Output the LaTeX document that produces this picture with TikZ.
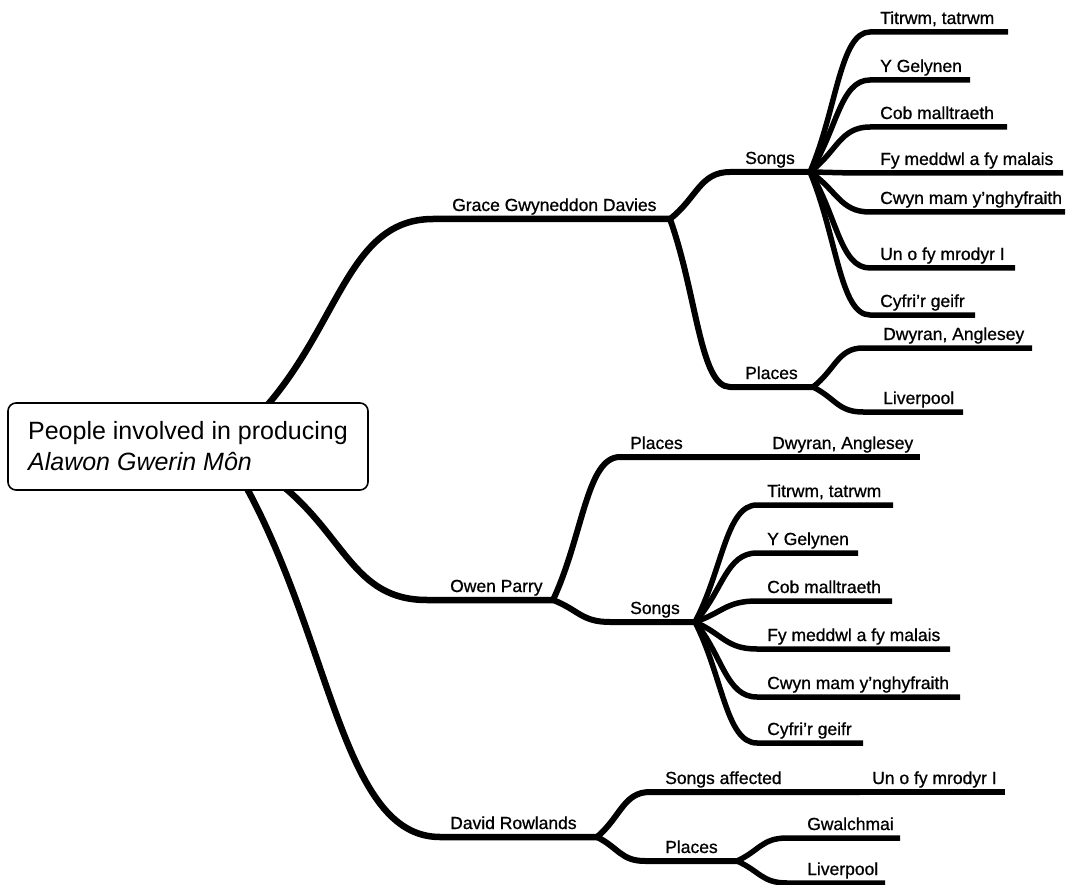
\documentclass[tikz,border=0pt]{standalone}
\usepackage{fontspec}
\setmainfont{Liberation Sans}
\newfontfamily\lblfont[FakeBold=0.8,Ligatures=TeX]{Liberation Sans}
\usetikzlibrary{calc}
\begin{document}
\begin{tikzpicture}[x=1pt,y=-1pt,
  rt/.style={line width=6.5pt, line join=round},
  br/.style={line width=6pt, line join=round},
  lf/.style={line width=5.5pt, line join=round},
  branch/.style={to path={.. controls ($(\tikztostart)!0.45!(\tikztotarget)$) and ($(\tikztotarget)!0.5!(\tikztostart |- \tikztotarget)$) .. (\tikztotarget)}},
  lbl/.style={anchor=base west, inner sep=0pt, font=\lblfont\fontsize{17.5}{20}\selectfont},
  rootbox/.style={draw, line width=1.6pt, fill=white, rounded corners=8pt,
    minimum width=360pt, minimum height=87pt, inner xsep=6pt,
    align=left, font=\fontsize{25}{31}\selectfont}
]
\fill[white] (0,0) rectangle (1068,885);
\useasboundingbox (0,0) rectangle (1068,885);

% ---------- coordinates
\coordinate (rG) at (264,409);
\coordinate (rO) at (279,483);
\coordinate (rD) at (244,483);
% Grace
\coordinate (gS) at (433,219);  \coordinate (gJ) at (670,219);
\coordinate (gsS) at (730,172); \coordinate (gsJ) at (810,172);
\coordinate (gpS) at (730,387); \coordinate (gpJ) at (813,387);
\coordinate (gs1S) at (870,32);  \coordinate (gs1E) at (1008,32);
\coordinate (gs2S) at (870,80);  \coordinate (gs2E) at (970,80);
\coordinate (gs3S) at (870,127); \coordinate (gs3E) at (1007,127);
\coordinate (gs4S) at (870,173); \coordinate (gs4E) at (1063,173);
\coordinate (gs5S) at (870,212); \coordinate (gs5E) at (1065,212);
\coordinate (gs6S) at (870,268); \coordinate (gs6E) at (1015,268);
\coordinate (gs7S) at (870,315); \coordinate (gs7E) at (975,315);
\coordinate (gp1S) at (863,348); \coordinate (gp1E) at (1032,348);
\coordinate (gp2S) at (863,412); \coordinate (gp2E) at (963,412);
% Owen
\coordinate (oS) at (427,600);  \coordinate (oJ) at (553,600);
\coordinate (opS) at (620,457); \coordinate (opJ) at (760,457); \coordinate (op1E) at (920,457);
\coordinate (osS) at (610,622); \coordinate (osJ) at (695,622);
\coordinate (os1S) at (757,505); \coordinate (os1E) at (893,505);
\coordinate (os2S) at (757,553); \coordinate (os2E) at (858,553);
\coordinate (os3S) at (757,601); \coordinate (os3E) at (892,601);
\coordinate (os4S) at (757,649); \coordinate (os4E) at (950,649);
\coordinate (os5S) at (757,697); \coordinate (os5E) at (960,697);
\coordinate (os6S) at (757,743); \coordinate (os6E) at (863,743);
% David
\coordinate (dS) at (440,837);  \coordinate (dJ) at (597,837);
\coordinate (dsS) at (650,792); \coordinate (dsJ) at (860,792); \coordinate (ds1E) at (1005,792);
\coordinate (dpS) at (645,861); \coordinate (dpJ) at (737,861);
\coordinate (dp1S) at (787,838); \coordinate (dp1E) at (900,838);
\coordinate (dp2S) at (787,883); \coordinate (dp2E) at (885,883);

% ---------- connectors
\draw[rt] (rG) to[branch] (gS) -- (gJ);
\draw[rt] (rO) to[branch] (oS) -- (oJ);
\draw[rt] (rD) to[branch] (dS) -- (dJ);

\draw[br] (gJ) to[branch] (gsS) -- (gsJ);
\draw[br] (gJ) to[branch] (gpS) -- (gpJ);
\foreach \i in {1,...,7} \draw[lf] (gsJ) to[branch] (gs\i S) -- (gs\i E);
\foreach \i in {1,2} \draw[lf] (gpJ) to[branch] (gp\i S) -- (gp\i E);

\draw[br] (oJ) to[branch] (opS) -- (opJ);
\draw[lf] (opJ) -- (op1E);
\draw[br] (oJ) to[branch] (osS) -- (osJ);
\foreach \i in {1,...,6} \draw[lf] (osJ) to[branch] (os\i S) -- (os\i E);

\draw[br] (dJ) to[branch] (dsS) -- (dsJ);
\draw[lf] (dsJ) -- (ds1E);
\draw[br] (dJ) to[branch] (dpS) -- (dpJ);
\foreach \i in {1,2} \draw[lf] (dpJ) to[branch] (dp\i S) -- (dp\i E);

% ---------- root
\node[rootbox] (root) at (188,446.5) {People involved in producing\\\textit{Alawon Gwerin Môn}};

% ---------- labels
\node[lbl] (tG) at (452,211) {Grace Gwyneddon Davies};
\node[lbl] (tGS) at (745,164) {Songs};
\node[lbl] (tGP) at (745,379) {Places};
\node[lbl] (tg1) at (880,24) {Titrwm, tatrwm};
\node[lbl] (tg2) at (880,72) {Y Gelynen};
\node[lbl] (tg3) at (880,119) {Cob malltraeth};
\node[lbl] (tg4) at (880,165) {Fy meddwl a fy malais};
\node[lbl] (tg5) at (880,204) {Cwyn mam y’nghyfraith};
\node[lbl] (tg6) at (880,260) {Un o fy mrodyr I};
\node[lbl] (tg7) at (880,307) {Cyfri’r geifr};
\node[lbl] (tg8) at (883,340) {Dwyran, Anglesey};
\node[lbl] (tg9) at (883,404) {Liverpool};

\node[lbl] (tO) at (450,592) {Owen Parry};
\node[lbl] (tOP) at (630,449) {Places};
\node[lbl] (to0) at (772,449) {Dwyran, Anglesey};
\node[lbl] (tOS) at (630,614) {Songs};
\node[lbl] (to1) at (767,497) {Titrwm, tatrwm};
\node[lbl] (to2) at (767,545) {Y Gelynen};
\node[lbl] (to3) at (767,593) {Cob malltraeth};
\node[lbl] (to4) at (767,641) {Fy meddwl a fy malais};
\node[lbl] (to5) at (767,689) {Cwyn mam y’nghyfraith};
\node[lbl] (to6) at (767,735) {Cyfri’r geifr};

\node[lbl] (tD) at (450,829) {David Rowlands};
\node[lbl] (tDS) at (665,784) {Songs affected};
\node[lbl] (td1) at (872,784) {Un o fy mrodyr I};
\node[lbl] (tDP) at (665,853) {Places};
\node[lbl] (td2) at (807,830) {Gwalchmai};
\node[lbl] (td3) at (807,875) {Liverpool};
\end{tikzpicture}
\end{document}
